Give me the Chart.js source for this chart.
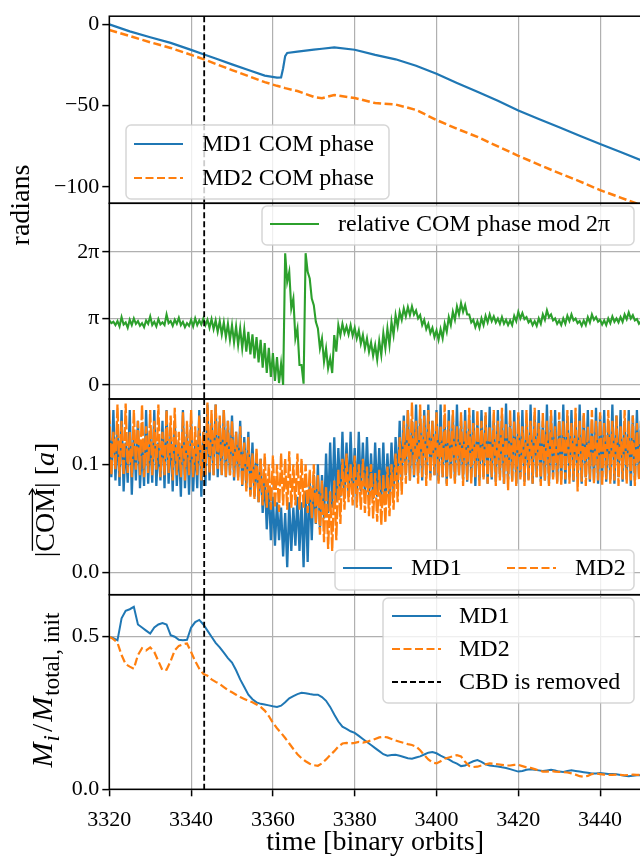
<!DOCTYPE html>
<html>
<head>
<meta charset="utf-8">
<script src="https://cdn.jsdelivr.net/npm/chart.js@4"></script>
<style>
  html, body { margin: 0; padding: 0; background: #fff; overflow: hidden; }
  #fig { position: relative; width: 640px; height: 859px; overflow: hidden; }
  #fig canvas { position: absolute; left: 0; top: 0; }
</style>
</head>
<body>
<div id="fig">
  <canvas id="c1" width="642" height="859"></canvas>
  <canvas id="c2" width="642" height="859"></canvas>
  <canvas id="c3" width="642" height="859"></canvas>
  <canvas id="c4" width="642" height="859"></canvas>
</div>
<script>
// ---- data ----
const xTicks = [3320, 3340, 3360, 3380, 3400, 3420, 3440];
const cbdRemovedAt = 3343.2;

// panel 1: COM phases [radians]
const phaseTime = [3320, 3325, 3330, 3335, 3340, 3343, 3346, 3350, 3354, 3358, 3361, 3362, 3362.5, 3363, 3363.5, 3366,
  3370, 3372, 3375, 3380, 3385, 3390, 3395, 3400, 3405, 3410, 3415, 3420, 3425, 3430, 3435, 3440, 3445, 3450];
const md1Phase = [0, -4.3, -7.9, -11.4, -15.7, -18.4, -21, -24.6, -28.1, -31.5, -32.8, -32.6, -27, -19.5, -17.6, -16.8,
  -15.6, -15, -14.2, -15.6, -18.8, -21.5, -25.5, -30.4, -36, -41.5, -47, -52.9, -58.2, -63.2, -68.5, -73.5, -78.5, -83.5];
const md2Phase = [-3.5, -7.2, -11, -14.5, -18.8, -21.4, -24.3, -28.1, -31.8, -35.5, -37.8, -38.4, -38.8, -39.2, -39.5, -41,
  -44.6, -45.4, -43.4, -45.3, -48.4, -49.3, -52.6, -58.8, -64.2, -69.2, -75, -80.8, -86.2, -91.5, -96.5, -101.9, -106.5, -111];

// panel 2: relative COM phase mod 2pi, in units of pi, every half orbit from 3320
const relPhase = [
  0.97,0.93,0.95,0.90,0.96,0.88,1.02,0.91,0.94,0.86,0.98,0.90,1.00,0.92,0.96,0.89,0.93,0.87,0.97,0.92,
  1.03,0.90,0.95,0.88,0.99,0.91,0.94,0.90,1.06,0.93,0.96,0.89,0.98,0.92,1.01,0.90,0.95,0.87,0.93,0.89,
  0.98,0.88,1.00,0.90,0.97,0.91,1.00,0.90,0.98,0.86,0.99,0.84,0.97,0.80,0.96,0.76,0.94,0.72,0.92,0.68,
  0.90,0.64,0.88,0.60,0.85,0.55,0.83,0.50,0.80,0.46,0.76,0.40,0.72,0.34,0.68,0.26,0.63,0.18,0.56,0.12,
  0.48,0.06,0.42,0.03,0.32,0.00,1.98,1.55,1.70,1.15,1.30,0.70,0.85,0.30,0.30,0.02,1.98,1.70,1.60,1.30,
  1.20,0.95,0.85,0.55,0.70,0.35,0.55,0.25,0.40,0.18,0.75,0.50,0.90,0.75,0.92,0.78,0.88,0.76,0.90,0.74,
  0.86,0.70,0.82,0.62,0.75,0.55,0.70,0.50,0.64,0.44,0.60,0.38,0.66,0.45,0.78,0.55,0.85,0.60,0.95,0.75,
  1.05,0.88,1.10,0.98,1.15,1.03,1.17,1.05,1.18,1.06,1.12,1.00,1.05,0.90,0.98,0.84,0.92,0.78,0.86,0.72,
  0.82,0.68,0.84,0.70,0.92,0.80,1.02,0.90,1.10,0.98,1.18,1.06,1.23,1.10,1.20,1.06,1.06,0.94,0.98,0.87,
  0.96,0.86,1.00,0.90,1.04,0.94,1.06,0.96,1.03,0.94,1.00,0.92,1.02,0.92,0.98,0.90,0.97,0.90,1.04,0.96,
  1.10,1.00,1.08,0.99,1.02,0.94,0.98,0.90,0.96,0.89,1.00,0.92,1.06,0.98,1.12,1.02,1.06,0.97,1.00,0.92,
  0.97,0.90,1.00,0.92,1.04,0.96,1.06,0.97,1.00,0.93,0.96,0.89,0.97,0.90,1.02,0.94,1.06,0.98,1.02,0.95,
  0.98,0.91,0.97,0.90,1.00,0.93,1.03,0.95,1.00,0.94,1.02,0.95,1.06,0.99,1.09,1.00,1.05,0.97,0.99,0.92,
  0.96
];

// panel 3: |COM| [a], every half orbit from 3320
const comMd1 = [
  .14,.088,.15,.085,.13,.08,.15,.075,.12,.083,.15,.072,.13,.085,.14,.078,.12,.08,.15,.082,
  .13,.083,.15,.08,.12,.085,.14,.078,.15,.082,.13,.075,.14,.08,.12,.07,.15,.078,.13,.072,
  .14,.075,.12,.078,.15,.07,.13,.08,.155,.085,.14,.09,.155,.088,.14,.09,.15,.088,.14,.09,
  .145,.085,.13,.088,.14,.08,.125,.078,.13,.072,.12,.07,.11,.065,.105,.055,.09,.04,.08,.03,
  .07,.025,.065,.03,.06,.015,.055,.005,.065,.02,.06,.025,.07,.02,.065,.005,.075,.01,.085,.03,
  .09,.045,.1,.04,.09,.05,.11,.055,.12,.06,.125,.065,.115,.07,.13,.072,.12,.07,.13,.075,
  .115,.07,.13,.075,.12,.072,.125,.07,.11,.068,.12,.07,.115,.068,.12,.065,.11,.07,.12,.075,
  .125,.08,.14,.085,.145,.09,.15,.085,.14,.088,.155,.09,.145,.085,.15,.09,.155,.088,.14,.09,
  .15,.085,.155,.088,.14,.082,.15,.088,.145,.085,.155,.09,.14,.086,.15,.084,.145,.088,.15,.08,
  .14,.085,.15,.088,.145,.082,.153,.086,.14,.084,.15,.088,.145,.082,.156,.086,.14,.085,.15,.082,
  .145,.088,.15,.084,.138,.086,.155,.082,.145,.088,.15,.084,.14,.085,.155,.082,.145,.088,.15,.084,
  .14,.086,.155,.082,.145,.088,.15,.084,.142,.086,.155,.082,.145,.088,.15,.084,.14,.085,.152,.082,
  .145,.088,.15,.084,.14,.086,.155,.082,.145,.088,.15,.084,.14,.086,.15,.08,.145,.085,.15,.088,
  .14
];
const comMd2 = [
  .15,.09,.13,.095,.155,.088,.14,.09,.156,.092,.13,.088,.15,.095,.14,.09,.155,.088,.135,.092,
  .15,.09,.14,.095,.155,.088,.13,.09,.15,.092,.145,.085,.152,.09,.13,.088,.148,.085,.14,.09,
  .15,.088,.135,.09,.145,.085,.13,.09,.157,.092,.15,.09,.155,.095,.145,.09,.15,.088,.14,.09,
  .14,.088,.13,.085,.135,.08,.12,.075,.125,.07,.11,.068,.115,.065,.105,.062,.11,.06,.1,.058,
  .108,.06,.1,.056,.11,.062,.105,.058,.112,.06,.1,.062,.11,.058,.105,.06,.1,.055,.095,.05,
  .1,.045,.09,.035,.085,.028,.08,.022,.075,.02,.085,.03,.095,.045,.105,.058,.11,.065,.1,.062,
  .108,.06,.1,.058,.105,.055,.098,.052,.1,.05,.092,.047,.095,.044,.09,.046,.098,.052,.1,.058,
  .11,.065,.125,.072,.14,.082,.15,.085,.157,.09,.14,.082,.155,.088,.145,.08,.15,.085,.14,.09,
  .148,.082,.135,.088,.155,.08,.14,.086,.15,.082,.135,.09,.148,.08,.14,.085,.152,.082,.138,.088,
  .15,.08,.14,.086,.148,.082,.135,.088,.15,.08,.14,.085,.152,.082,.138,.076,.15,.084,.14,.08,
  .148,.086,.135,.08,.15,.085,.14,.082,.152,.088,.138,.08,.148,.085,.14,.08,.15,.086,.135,.082,
  .148,.08,.14,.086,.15,.082,.138,.085,.152,.075,.14,.084,.148,.08,.135,.086,.15,.082,.14,.085,
  .148,.08,.138,.086,.15,.082,.14,.085,.145,.08,.135,.086,.15,.082,.14,.085,.145,.08,.138,.086,
  .14
];

// panel 4: M_i / M_total,init, every orbit from 3320
const massMd1 = [
  .50,.495,.488,.56,.585,.59,.598,.54,.53,.52,
  .51,.53,.54,.545,.54,.505,.50,.49,.488,.49,
  .53,.548,.555,.54,.52,.50,.48,.465,.448,.43,
  .415,.39,.36,.335,.31,.295,.285,.28,.278,.275,
  .272,.27,.274,.285,.298,.305,.312,.316,.315,.312,
  .31,.31,.302,.29,.27,.245,.222,.205,.198,.19,
  .185,.175,.165,.155,.145,.135,.125,.115,.11,.112,
  .113,.11,.106,.102,.1,.104,.108,.114,.12,.122,
  .118,.11,.104,.098,.09,.084,.076,.078,.086,.092,
  .096,.09,.082,.078,.076,.075,.072,.07,.066,.062,
  .058,.06,.064,.066,.064,.062,.06,.062,.064,.062,
  .058,.057,.06,.062,.06,.058,.056,.054,.052,.052,
  .053,.052,.05,.05,.049,.047,.044,.043,.044,.046,
  .046
];
const massMd2 = [
  .50,.492,.48,.44,.41,.402,.395,.44,.462,.455,
  .465,.45,.42,.39,.392,.42,.455,.47,.475,.478,
  .45,.42,.395,.378,.372,.36,.352,.345,.335,.325,
  .318,.31,.302,.296,.29,.285,.278,.27,.258,.24,
  .218,.2,.185,.168,.15,.132,.115,.102,.092,.084,
  .079,.077,.085,.098,.112,.125,.14,.15,.152,.15,
  .152,.155,.153,.156,.16,.165,.17,.172,.17,.165,
  .16,.156,.152,.148,.145,.14,.128,.112,.098,.088,
  .085,.092,.1,.104,.108,.112,.108,.09,.076,.073,
  .074,.078,.082,.085,.084,.082,.08,.078,.078,.08,
  .08,.076,.072,.07,.066,.062,.058,.058,.06,.058,
  .057,.056,.055,.052,.048,.043,.041,.044,.05,.052,
  .05,.048,.047,.047,.048,.047,.046,.047,.048,.047,
  .047
];

// ---- drawing ----
const BLUE = '#1f77b4', ORANGE = '#ff7f0e', GREEN = '#2ca02c';
const SERIF = '"Liberation Serif", "Times New Roman", serif';
const FIG_H = 859;

function pts(times, vals) { return vals.map((v, i) => ({ x: times[i], y: v })); }
function sampleTimes(n, step) { return Array.from({ length: n }, (_, i) => 3320 + i * step); }
const halfOrbit = sampleTimes(relPhase.length, 0.5);
const oneOrbit = sampleTimes(massMd1.length, 1);

// order: lower value is painted later (on top), as in the reference MD2 lies over MD1
function line(label, data, color, width, dash, order) {
  return { label, data, borderColor: color, borderWidth: width, borderDash: dash || [],
           pointRadius: 0, tension: 0, fill: false, order: order || 0 };
}

const dashed = [8, 3.5];

const panels = [
  {
    id: 'c1', top: 8.3, bottom: 203.3, ymin: -110, ymax: 5, yTicks: [-100, -50, 0], yGrid: false,
    fmt: v => v < 0 ? '\u2212' + (-v) : String(v),
    datasets: [
      line('MD1 COM phase', pts(phaseTime, md1Phase), BLUE, 2.2, null, 1),
      line('MD2 COM phase', pts(phaseTime, md2Phase), ORANGE, 2.5, dashed, 0)
    ],
    legend: { x: 126, y: 125, w: 263, h: 74, items: [
      { label: 'MD1 COM phase', color: BLUE, lx: 134, tx: 202, y: 144 },
      { label: 'MD2 COM phase', color: ORANGE, dash: dashed, lx: 134, tx: 202, y: 178 }
    ] }
  },
  {
    id: 'c2', top: 203.3, bottom: 399, ymin: -0.21, ymax: 2.73, yTicks: [0, 1, 2], yGrid: true,
    fmt: v => v === 0 ? '0' : (v === 1 ? '\u03c0' : v + '\u03c0'),
    datasets: [ line('relative COM phase mod 2\u03c0', pts(halfOrbit, relPhase), GREEN, 2.1) ],
    legend: { x: 262, y: 206, w: 372, h: 39, items: [
      { label: 'relative COM phase mod 2\u03c0', color: GREEN, lx: 270, tx: 338, y: 224 }
    ] }
  },
  {
    id: 'c3', top: 399, bottom: 594.7, ymin: -0.0203, ymax: 0.1602, yTicks: [0, 0.1], yGrid: true,
    fmt: v => v.toFixed(1),
    datasets: [
      line('MD1', pts(halfOrbit, comMd1), BLUE, 2.3, null, 1),
      line('MD2', pts(halfOrbit, comMd2), ORANGE, 2.3, [14, 2.5], 0)
    ],
    legend: { x: 335, y: 550, w: 299, h: 40, items: [
      { label: 'MD1', color: BLUE, lx: 343, tx: 411, y: 568 },
      { label: 'MD2', color: ORANGE, dash: dashed, lx: 507, tx: 575, y: 568 }
    ] }
  },
  {
    id: 'c4', top: 594.7, bottom: 789.3, ymin: 0, ymax: 0.6376, yTicks: [0, 0.5], yGrid: true,
    fmt: v => v.toFixed(1),
    datasets: [
      line('MD1', pts(oneOrbit, massMd1), BLUE, 2, null, 1),
      line('MD2', pts(oneOrbit, massMd2), ORANGE, 2.2, dashed, 0)
    ],
    legend: { x: 383, y: 598, w: 251, h: 105, items: [
      { label: 'MD1', color: BLUE, lx: 392, tx: 459, y: 616 },
      { label: 'MD2', color: ORANGE, dash: dashed, lx: 392, tx: 459, y: 649 },
      { label: 'CBD is removed', color: '#000', dash: [6, 3], lx: 392, tx: 459, y: 682 }
    ] }
  }
];

function roundRect(ctx, x, y, w, h, r) {
  ctx.beginPath();
  ctx.moveTo(x + r, y);
  ctx.arcTo(x + w, y, x + w, y + h, r);
  ctx.arcTo(x + w, y + h, x, y + h, r);
  ctx.arcTo(x, y + h, x, y, r);
  ctx.arcTo(x, y, x + w, y, r);
  ctx.closePath();
}

// CBD marker, axes frame and in-axes legend, drawn over the data
const decorPlugin = {
  id: 'decor',
  afterDatasetsDraw(chart, args, opts) {
    const { ctx, chartArea: a, scales } = chart;
    const xp = scales.x.getPixelForValue(cbdRemovedAt);
    ctx.save();
    ctx.strokeStyle = '#000';
    ctx.lineWidth = 1.8;
    ctx.setLineDash([6, 3]);
    ctx.beginPath();
    ctx.moveTo(xp, a.top);
    ctx.lineTo(xp, a.bottom);
    ctx.stroke();
    ctx.setLineDash([]);
    ctx.lineWidth = 1.5;
    ctx.strokeRect(a.left, a.top, a.right - a.left, a.bottom - a.top);

    const lg = opts.box;
    if (lg) {
      roundRect(ctx, lg.x, lg.y, lg.w, lg.h, 5);
      ctx.fillStyle = 'rgba(255,255,255,0.8)';
      ctx.fill();
      ctx.strokeStyle = 'rgba(204,204,204,0.8)';
      ctx.lineWidth = 1.5;
      ctx.stroke();
      ctx.font = '24px ' + SERIF;
      ctx.textBaseline = 'middle';
      lg.items.forEach(it => {
        ctx.strokeStyle = it.color;
        ctx.lineWidth = 2.2;
        ctx.setLineDash(it.dash || []);
        ctx.beginPath();
        ctx.moveTo(it.lx, it.y);
        ctx.lineTo(it.lx + 49, it.y);
        ctx.stroke();
        ctx.setLineDash([]);
        ctx.fillStyle = '#000';
        ctx.fillText(it.label, it.tx, it.y + 1);
      });
    }
    ctx.restore();
  }
};

// rotated y-axis titles with subscript pieces
function drawVertical(ctx, cx, cy, size, parts) {
  ctx.save();
  ctx.translate(cx, cy);
  ctx.rotate(-Math.PI / 2);
  ctx.textBaseline = 'alphabetic';
  ctx.fillStyle = '#000';
  ctx.strokeStyle = '#000';
  const fontOf = p => (p.italic ? 'italic ' : '') + Math.round(size * (p.scale || 1)) + 'px ' + SERIF;
  let total = 0;
  parts.forEach(p => { ctx.font = fontOf(p); p.w = ctx.measureText(p.text).width + (p.gap || 0); total += p.w; });
  let x = -total / 2;
  const base = size * 0.33;
  parts.forEach(p => {
    ctx.font = fontOf(p);
    ctx.fillText(p.text, x, base + (p.shift || 0) * size);
    if (p.arrow) {
      const ay = base - size * 0.78;
      const x1 = x + p.w - 1;
      ctx.lineWidth = 1.3;
      ctx.beginPath();
      ctx.moveTo(x + 1, ay);
      ctx.lineTo(x1, ay);
      ctx.moveTo(x1 - 6, ay - 3.5);
      ctx.lineTo(x1, ay);
      ctx.lineTo(x1 - 6, ay + 3.5);
      ctx.stroke();
    }
    x += p.w;
  });
  ctx.restore();
}

const titlesPlugin = {
  id: 'titles',
  afterDraw(chart) {
    const ctx = chart.ctx;
    drawVertical(ctx, 20, 205, 28, [{ text: 'radians' }]);
    drawVertical(ctx, 45, 500, 28, [
      { text: '|' }, { text: 'COM', arrow: true }, { text: '| [' }, { text: 'a', italic: true }, { text: ']' }
    ]);
    drawVertical(ctx, 42, 690, 30, [
      { text: 'M', italic: true, gap: 1 }, { text: 'i', italic: true, scale: 0.75, shift: 0.22, gap: 3 },
      { text: '/', gap: 2 },
      { text: 'M', italic: true, gap: 1 }, { text: 'total, init', scale: 0.75, shift: 0.22 }
    ]);
  }
};

panels.forEach((p, idx) => {
  const isBottom = idx === panels.length - 1;
  new Chart(document.getElementById(p.id), {
    type: 'line',
    data: { datasets: p.datasets },
    options: {
      responsive: false,
      animation: false,
      devicePixelRatio: 1,
      parsing: false,
      normalized: true,
      layout: { padding: { top: p.top, bottom: isBottom ? 0 : FIG_H - p.bottom, left: 0, right: 1 } },
      plugins: { legend: { display: false }, tooltip: { enabled: false }, decor: { box: p.legend } },
      scales: {
        x: {
          type: 'linear', min: 3320, max: 3450,
          afterBuildTicks: s => { s.ticks = xTicks.map(v => ({ value: v })); },
          afterFit: s => { s.height = isBottom ? FIG_H - p.bottom : 0; },
          border: { display: false },
          grid: { color: '#b0b0b0', lineWidth: 1.2, drawTicks: isBottom, tickLength: 7, tickColor: '#000', tickWidth: 1.5 },
          ticks: { display: isBottom, autoSkip: false, maxRotation: 0, padding: 11, color: '#000',
                   font: { family: SERIF, size: 22 }, callback: v => String(v) },
          title: { display: isBottom, text: 'time [binary orbits]', color: '#000', padding: 0,
                   font: { family: SERIF, size: 28 } }
        },
        y: {
          min: p.ymin, max: p.ymax,
          afterBuildTicks: s => { s.ticks = p.yTicks.map(v => ({ value: v })); },
          afterFit: s => { s.width = 109.3; },
          border: { display: false },
          grid: { color: '#b0b0b0', lineWidth: 1.2, drawOnChartArea: p.yGrid, tickLength: 7, tickColor: '#000', tickWidth: 1.5 },
          ticks: { padding: 3, color: '#000', font: { family: SERIF, size: 22 }, callback: v => p.fmt(v) }
        }
      }
    },
    plugins: isBottom ? [decorPlugin, titlesPlugin] : [decorPlugin]
  });
});
</script>
</body>
</html>
